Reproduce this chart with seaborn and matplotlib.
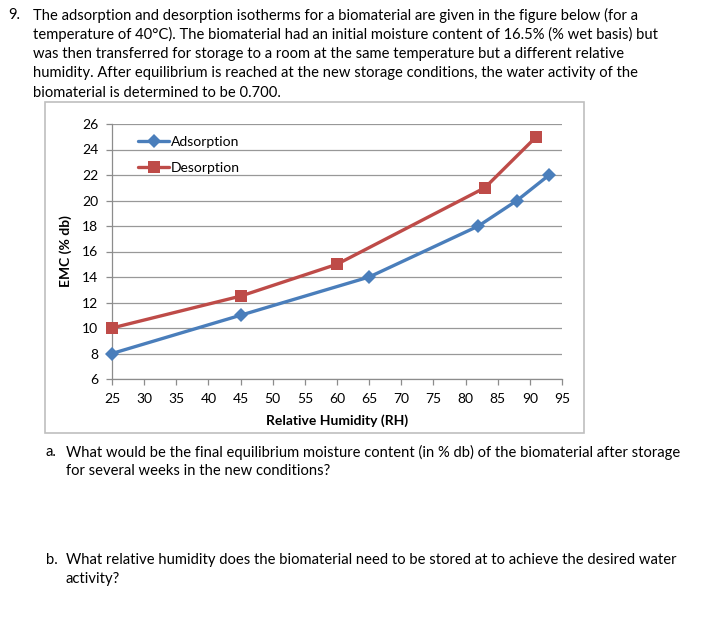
import pandas as pd
import seaborn as sns
from matplotlib import pyplot as plt
from matplotlib.patches import Rectangle

# isotherm data
ads_rh = [25, 45, 65, 82, 88, 93]
ads_emc = [8, 11, 14, 18, 20, 22]
des_rh = [25, 45, 60, 83, 91]
des_emc = [10, 12.5, 15, 21, 25]
x_ticks = list(range(25, 100, 5))
y_ticks = list(range(6, 28, 2))

df = pd.concat([
    pd.DataFrame({'RH': ads_rh, 'EMC': ads_emc, 'Series': 'Adsorption'}),
    pd.DataFrame({'RH': des_rh, 'EMC': des_emc, 'Series': 'Desorption'}),
])

sns.set_theme(style="white")
plt.rcParams['font.family'] = ['Lato', 'DejaVu Sans']
plt.rcParams['text.color'] = 'black'
plt.rcParams['axes.labelcolor'] = 'black'

W, H = 705, 629
fig = plt.figure(figsize=(W / 100, H / 100), dpi=100)

# question text
txt = dict(fontsize=10.6, color='black', va='center', ha='left')
fig.text(8 / W, 1 - 15 / H, '9.', **txt)
lines = ['The adsorption and desorption isotherms for a biomaterial are given in the figure below (for a',
         'temperature of 40°C). The biomaterial had an initial moisture content of 16.5% (% wet basis) but',
         'was then transferred for storage to a room at the same temperature but a different relative',
         'humidity. After equilibrium is reached at the new storage conditions, the water activity of the',
         'biomaterial is determined to be 0.700.']
for i, s in enumerate(lines):
    fig.text(33 / W, 1 - (15 + 19.4 * i) / H, s, **txt)

fig.text(46 / W, 1 - 452 / H, 'a.', **txt)
fig.text(66 / W, 1 - 452 / H, 'What would be the final equilibrium moisture content (in % db) of the biomaterial after storage', **txt)
fig.text(66 / W, 1 - 471 / H, 'for several weeks in the new conditions?', **txt)
fig.text(46 / W, 1 - 560 / H, 'b.', **txt)
fig.text(66 / W, 1 - 560 / H, 'What relative humidity does the biomaterial need to be stored at to achieve the desired water', **txt)
fig.text(66 / W, 1 - 579 / H, 'activity?', **txt)

# chart frame
fig.patches.append(Rectangle((45 / W, 1 - 433 / H), (584 - 45) / W, (433 - 102) / H,
                             transform=fig.transFigure, fill=False, ec='#bfbfbf', lw=1.2))

ax = fig.add_axes([112 / W, 1 - 379 / H, (562 - 112) / W, (379 - 124) / H])
pal = {'Adsorption': '#4a7ebb', 'Desorption': '#be4b48'}
sns.lineplot(data=df, x='RH', y='EMC', hue='Series', style='Series',
             markers={'Adsorption': 'D', 'Desorption': 's'}, dashes=False,
             palette=pal, lw=2.4, ax=ax, markeredgewidth=0, sort=False)
for ln in ax.lines:
    ln.set_clip_on(False)
    ln.set_zorder(3)
    if ln.get_marker() == 'D':
        ln.set_markersize(7)
    else:
        ln.set_markersize(8.5)

ax.set_xlim(25, 95)
ax.set_ylim(6, 26)
ax.set_xticks(x_ticks)
ax.set_yticks(y_ticks)
ax.yaxis.grid(True, color='#989898', lw=0.9)
ax.set_axisbelow(True)
for sp in ['top', 'right']:
    ax.spines[sp].set_visible(False)
for sp in ['left', 'bottom']:
    ax.spines[sp].set_color('#8c8c8c')
    ax.spines[sp].set_linewidth(0.9)
ax.tick_params(axis='both', direction='out', length=4, width=0.9, color='#8c8c8c',
               labelsize=10, pad=6, labelcolor='black')
ax.tick_params(axis='both', bottom=True, left=True)
ax.set_xlabel('Relative Humidity (RH)', fontsize=10, fontweight='bold', labelpad=7)
ax.set_ylabel('EMC (% db)', fontsize=10, fontweight='bold', labelpad=7)

leg = ax.legend(loc='upper left', bbox_to_anchor=(0.04, 0.985), frameon=False, fontsize=10,
                handlelength=2.2, handletextpad=0.15, labelspacing=1.0, borderaxespad=0.2)

plt.savefig('out.png', dpi=100)
